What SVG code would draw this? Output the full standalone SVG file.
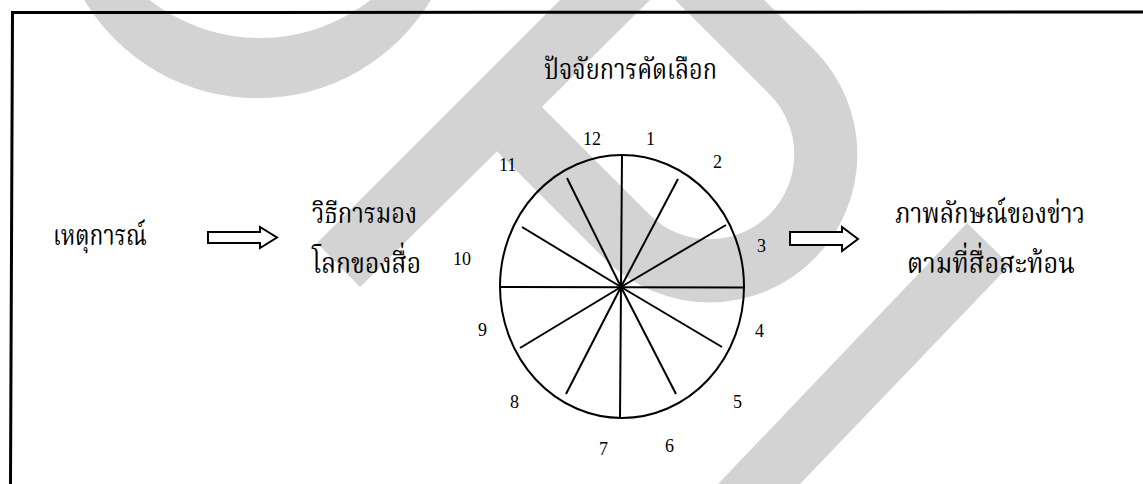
<svg xmlns="http://www.w3.org/2000/svg" width="1143" height="484" viewBox="0 0 1143 484">
  <style>
    .wm { fill: #d3d3d3; stroke: none; }
    .frame { fill: none; stroke: #000; stroke-width: 3; }
    .th { font-family: "Noto Serif Thai", "Norasi", "Noto Sans Thai", "Loma", "Garuda", "Liberation Serif", serif; font-size: 29px; fill: #000; }
    .num { font-family: "Liberation Serif", "Times New Roman", serif; font-size: 18px; fill: #000; }
    .blk { fill: #fff; stroke: #000; stroke-width: 2; stroke-linejoin: miter; }
    .spoke { stroke: #000; stroke-width: 2; fill: none; stroke-linecap: butt; }
  </style>
  <rect x="0" y="0" width="1143" height="484" fill="#fff"/>

  <g id="watermark">
    <path class="wm" d="M83,-2 A202,202 0 0 0 432,-2 L373,-2 A179.6,179.6 0 0 1 147,-2 Z"/>
    <polygon class="wm" points="317,243 560,0 650,0 360,287"/>
    <path class="wm" d="M496.85,151.15 L605.35,259.65 A148,148 0 0 0 814.65,50.35 L754.3,-10 L665.2,-10 L770.1,94.9 A85,85 0 0 1 649.9,215.1 L541.4,106.6 Z"/>
    <polygon class="wm" points="967,223 1010,265 800,484 718,484"/>
  </g>

  <path id="frame" class="frame" d="M10.5,484 L12.5,12.5 L1143,12"/>

  <g id="title">
    <text class="th" x="544" y="79" textLength="173" lengthAdjust="spacingAndGlyphs">ปัจจัยการคัดเลือก</text>
  </g>

  <g id="event">
    <text class="th" x="53" y="245" textLength="94" lengthAdjust="spacingAndGlyphs">เหตุการณ์</text>
  </g>

  <g id="worldview">
    <text class="th" x="312" y="223" textLength="105" lengthAdjust="spacingAndGlyphs">วิธีการมอง</text>
    <text class="th" x="312" y="273" textLength="109" lengthAdjust="spacingAndGlyphs">โลกของสื่อ</text>
  </g>

  <g id="wheel">
    <ellipse cx="622" cy="286.5" rx="122" ry="131.5" fill="none" stroke="#000" stroke-width="2"/>
    <line class="spoke" x1="622" y1="155" x2="620" y2="418"/>
    <line class="spoke" x1="500" y1="287" x2="743" y2="287.5"/>
    <line class="spoke" x1="621" y1="287" x2="567" y2="178"/>
    <line class="spoke" x1="621" y1="287" x2="522" y2="227"/>
    <line class="spoke" x1="621" y1="287" x2="678" y2="179"/>
    <line class="spoke" x1="621" y1="287" x2="726" y2="225"/>
    <line class="spoke" x1="621" y1="287" x2="520" y2="348"/>
    <line class="spoke" x1="621" y1="287" x2="566" y2="394"/>
    <line class="spoke" x1="621" y1="287" x2="676" y2="394"/>
    <line class="spoke" x1="621" y1="287" x2="722" y2="347"/>
    <text class="num" x="583" y="145">12</text>
    <text class="num" x="646" y="145">1</text>
    <text class="num" x="713" y="168">2</text>
    <text class="num" x="757" y="252">3</text>
    <text class="num" x="755" y="337">4</text>
    <text class="num" x="733" y="408">5</text>
    <text class="num" x="665" y="452">6</text>
    <text class="num" x="599" y="455">7</text>
    <text class="num" x="510" y="408">8</text>
    <text class="num" x="478" y="336">9</text>
    <text class="num" x="453" y="265">10</text>
    <text class="num" x="499" y="171">11</text>
  </g>

  <g id="newsimage">
    <text class="th" x="895" y="223" textLength="190" lengthAdjust="spacingAndGlyphs">ภาพลักษณ์ของข่าว</text>
    <text class="th" x="907" y="273" textLength="168" lengthAdjust="spacingAndGlyphs">ตามที่สื่อสะท้อน</text>
  </g>

  <g id="connectors">
    <polygon class="blk" points="208,232 260,232 260,227 277,237.5 260,248 260,243 208,243"/>
    <polygon class="blk" points="790,232 842,232 842,227 858,239 842,251 842,245 790,245"/>
  </g>
</svg>
